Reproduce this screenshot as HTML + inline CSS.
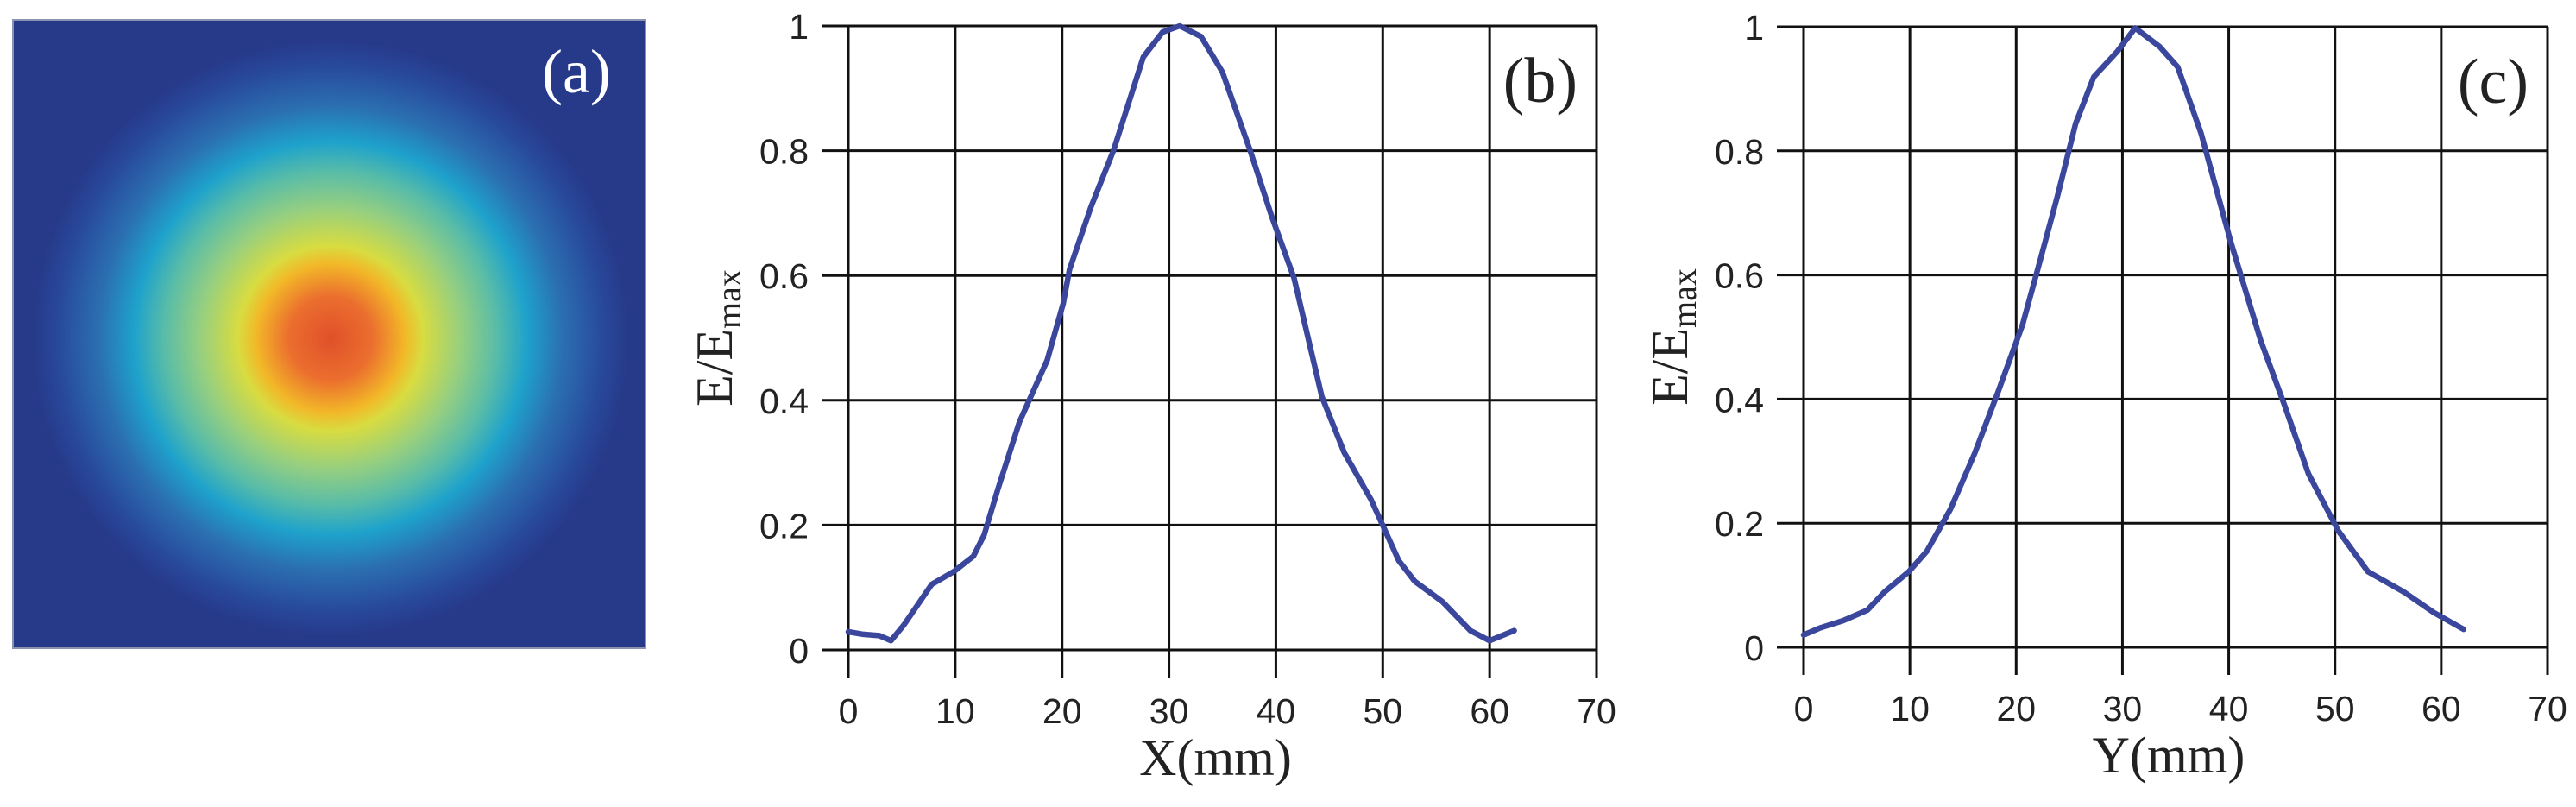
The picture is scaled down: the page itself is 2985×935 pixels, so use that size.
<!DOCTYPE html>
<html><head><meta charset="utf-8">
<style>
html,body{margin:0;padding:0;background:#fff;}
svg{display:block;}
.tick{font-family:"Liberation Sans",sans-serif;font-size:41px;fill:#222;}
.ser{font-family:"Liberation Serif",serif;fill:#222;}
</style></head>
<body>
<svg id="fig" width="2985" height="935" viewBox="0 0 2985 935" xmlns="http://www.w3.org/2000/svg">
<defs>
<radialGradient id="beam" cx="383" cy="392" r="345" gradientUnits="userSpaceOnUse">
<stop offset="0" stop-color="#e0502a"/>
<stop offset="0.14" stop-color="#eb6e2e"/>
<stop offset="0.25" stop-color="#f2b828"/>
<stop offset="0.31" stop-color="#d8dc40"/>
<stop offset="0.44" stop-color="#96cf80"/>
<stop offset="0.56" stop-color="#58bca8"/>
<stop offset="0.66" stop-color="#1ea2cc"/>
<stop offset="0.78" stop-color="#2b6fb0"/>
<stop offset="0.92" stop-color="#28489a"/>
<stop offset="1" stop-color="#273a8a"/>
</radialGradient>
</defs>
<g>
<rect x="15" y="23" width="733" height="728" fill="#273a8a"/>
<rect x="15" y="23" width="733" height="728" fill="url(#beam)"/>
<rect x="15" y="23" width="733" height="728" fill="none" stroke="#8a94b0" stroke-width="2"/>
<text x="628" y="107" class="ser" font-size="72" fill="#fff" style="fill:#fff">(a)</text>
</g>
<g id="pb"></g>
<g id="pc"></g>
</svg>
<script>
const xTicks = [0,10,20,30,40,50,60,70];
const yTicks = [0,0.2,0.4,0.6,0.8,1];
const yTickLabels = ["0","0.2","0.4","0.6","0.8","1"];
const bX = [0,1.4,2.9,4,5.2,7.8,9.9,11.7,12.7,14,16,18.6,20.1,20.7,22.7,24.8,27.6,29.4,31,33,35,37.6,39.6,41.7,44.3,46.4,48.9,51.5,53,55.6,58.2,60,62.3];
const bY = [0.029,0.025,0.023,0.015,0.04,0.105,0.126,0.15,0.184,0.258,0.365,0.464,0.555,0.61,0.71,0.8,0.95,0.99,1.0,0.983,0.926,0.8,0.695,0.596,0.406,0.316,0.241,0.143,0.11,0.077,0.031,0.015,0.031];
const cX = [0,1.5,3.7,6,7.6,9.9,11.6,13.8,16.1,18.3,20.6,22.2,23.9,25.6,27.3,29.5,31.2,33.5,35.2,37.4,40.2,43,45.3,47.5,50.3,53.1,56.5,59.3,62.1];
const cY = [0.02,0.031,0.043,0.06,0.089,0.122,0.155,0.222,0.313,0.412,0.52,0.62,0.728,0.844,0.919,0.96,0.998,0.968,0.935,0.828,0.653,0.495,0.388,0.28,0.188,0.122,0.089,0.056,0.029];

const NS="http://www.w3.org/2000/svg";
function mk(tag, attrs, parent){const e=document.createElementNS(NS,tag);for(const k in attrs)e.setAttribute(k,attrs[k]);parent.appendChild(e);return e;}

function drawChart(g, x0, x1, y0, y1, xs, ys, xlabel, panel, key){
  const sx=v=>x0+(v-0)/70*(x1-x0);
  const sy=v=>y0-(v-0)*(y0-y1);
  xTicks.forEach(t=>{
    const l=mk('line',{x1:sx(t),x2:sx(t),y1:y1,y2:y0+32,stroke:'#111','stroke-width':3},g);
    
    
    const tx=mk('text',{x:sx(t),y:y0+85,'text-anchor':'middle',class:'tick'},g);
    tx.textContent=String(t);
    
    
  });
  yTicks.forEach((t,i)=>{
    const l=mk('line',{x1:x0-31,x2:x1,y1:sy(t),y2:sy(t),stroke:'#111','stroke-width':3},g);
    
    
    const tx=mk('text',{x:x0-46,y:sy(t)+15,'text-anchor':'end',class:'tick'},g);
    tx.textContent=yTickLabels[i];
    
    
  });
  const pts=xs.map((v,i)=>sx(v).toFixed(1)+','+sy(ys[i]).toFixed(1)).join(' ');
  const pl=mk('polyline',{points:pts,fill:'none',stroke:'#3a479c','stroke-width':6.5,'stroke-linejoin':'round','stroke-linecap':'round'},g);
  
  
  const xl=mk('text',{x:(x0+x1)/2-8,y:y0+145,'text-anchor':'middle',class:'ser','font-size':60},g);
  xl.textContent=xlabel;
  
  
  const yl=mk('text',{transform:'translate('+(x0-135)+','+((y0+y1)/2)+') rotate(-90)','text-anchor':'middle',class:'ser','font-size':60},g);
  yl.innerHTML='E/E<tspan font-size="40" dy="10">max</tspan>';
  
  
  const pn=mk('text',{x:x1-22,y:y1+88,'text-anchor':'end',class:'ser','font-size':74},g);
  pn.textContent=panel;
  
  
}
drawChart(document.getElementById('pb'),983,1850,753,30,bX,bY,'X(mm)','(b)','b');
drawChart(document.getElementById('pc'),2090,2952,750,31,cX,cY,'Y(mm)','(c)','c');
</script>
</body></html>
